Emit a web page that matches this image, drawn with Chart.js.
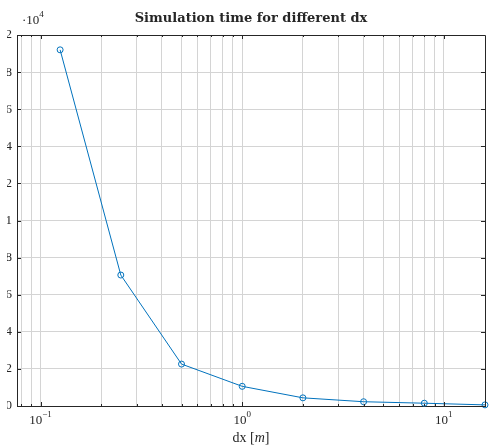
<!DOCTYPE html>
<html>
<head>
<meta charset="utf-8">
<script src="https://cdn.jsdelivr.net/npm/chart.js@4"></script>
<style>
  html, body { margin: 0; padding: 0; background: #fff; overflow: hidden; }
  #wrap { position: absolute; left: 7px; top: 0; width: 482px; height: 448px; }
</style>
</head>
<body>
<div id="wrap"><canvas id="chart"></canvas></div>
<script>
const dx = [0.125, 0.25, 0.5, 1, 2, 4, 8, 16];
const simTime = [19200, 7060, 2260, 1060, 440, 230, 150, 60];
const xGridTicks = [0.08, 0.09, 0.1, 0.2, 0.3, 0.4, 0.5, 0.6, 0.7, 0.8, 0.9,
                    1, 2, 3, 4, 5, 6, 7, 8, 9, 10];
const xMajor = [0.1, 1, 10];
const xMajorExp = ['\u22121', '0', '1'];

const AX = '#262626';
const SERIF = '"Liberation Serif", "DejaVu Serif", serif';
const TITLE_FONT = 'bold 13px "DejaVu Serif", serif';

const decor = {
    id: 'decor',
    afterDraw(chart) {
        const { ctx, chartArea: a, scales: { x, y } } = chart;
        ctx.save();
        // box top / right
        ctx.strokeStyle = AX;
        ctx.lineWidth = 1;
        ctx.beginPath();
        ctx.moveTo(a.left, a.top + 0.5);
        ctx.lineTo(a.right + 0.5, a.top + 0.5);
        ctx.lineTo(a.right + 0.5, a.bottom);
        ctx.stroke();

        // inward tick marks
        ctx.beginPath();
        xGridTicks.forEach(v => {
            const px = Math.round(x.getPixelForValue(v)) + 0.5;
            const len = xMajor.includes(v) ? 4 : 2;
            ctx.moveTo(px, a.bottom); ctx.lineTo(px, a.bottom - len);
            ctx.moveTo(px, a.top); ctx.lineTo(px, a.top + len);
        });
        y.ticks.forEach(t => {
            const py = Math.round(y.getPixelForValue(t.value)) + 0.5;
            ctx.moveTo(a.left, py); ctx.lineTo(a.left + 4, py);
            ctx.moveTo(a.right, py); ctx.lineTo(a.right - 4, py);
        });
        ctx.stroke();

        ctx.fillStyle = AX;
        // title
        ctx.font = TITLE_FONT;
        ctx.textAlign = 'center';
        ctx.textBaseline = 'alphabetic';
        ctx.fillText('Simulation time for different dx', (a.left + a.right) / 2, 22);

        // x tick labels 10^n
        xMajor.forEach((v, i) => {
            const px = x.getPixelForValue(v);
            ctx.font = '13px ' + SERIF;
            const w1 = ctx.measureText('10').width;
            ctx.font = '9px ' + SERIF;
            const w2 = ctx.measureText(xMajorExp[i]).width;
            const start = px - (w1 + w2) / 2;
            ctx.textAlign = 'left';
            ctx.font = '13px ' + SERIF;
            ctx.fillText('10', start, 424);
            ctx.font = '9px ' + SERIF;
            ctx.fillText(xMajorExp[i], start + w1, 417);
        });

        // x axis label: dx [m]
        ctx.font = '14px ' + SERIF;
        const p1 = 'dx [', p3 = ']';
        const w1 = ctx.measureText(p1).width;
        const w3 = ctx.measureText(p3).width;
        ctx.font = 'italic 14px ' + SERIF;
        const w2 = ctx.measureText('m').width;
        let sx = (a.left + a.right) / 2 - (w1 + w2 + w3) / 2;
        ctx.font = '14px ' + SERIF;
        ctx.fillText(p1, sx, 442);
        ctx.font = 'italic 14px ' + SERIF;
        ctx.fillText('m', sx + w1, 442);
        ctx.font = '14px ' + SERIF;
        ctx.fillText(p3, sx + w1 + w2, 442);

        // exponent multiplier
        ctx.font = '13px ' + SERIF;
        ctx.fillText('\u00b710', a.left + 5, 24);
        const wm = ctx.measureText('\u00b710').width;
        ctx.font = '9px ' + SERIF;
        ctx.fillText('4', a.left + 5 + wm, 17);
        ctx.restore();
    }
};

new Chart(document.getElementById('chart'), {
    type: 'line',
    data: {
        datasets: [{
            data: dx.map((v, i) => ({ x: v, y: simTime[i] })),
            borderColor: '#0072BD',
            borderWidth: 1,
            pointRadius: 3,
            pointHoverRadius: 3,
            pointBorderWidth: 1,
            pointBorderColor: '#0072BD',
            pointBackgroundColor: 'rgba(0,0,0,0)',
            tension: 0,
            clip: false
        }]
    },
    options: {
        responsive: true,
        maintainAspectRatio: false,
        animation: false,
        events: [],
        layout: { padding: { top: 35, right: 1, left: 0, bottom: 0 } },
        plugins: { legend: { display: false }, tooltip: { enabled: false }, title: { display: false } },
        scales: {
            x: {
                type: 'logarithmic',
                min: 0.0764,
                max: 16,
                afterBuildTicks: (scale) => {
                    scale.ticks = xGridTicks.map(v => ({ value: v }));
                },
                afterFit: (scale) => { scale.height = 42; },
                ticks: { display: false },
                grid: { color: '#d4d4d4', drawTicks: false, lineWidth: 1 },
                border: { display: true, color: AX, width: 1 }
            },
            y: {
                min: 0,
                max: 20000,
                afterFit: (scale) => { scale.width = 10; },
                ticks: {
                    stepSize: 2000,
                    padding: 5,
                    color: AX,
                    font: { family: SERIF, size: 13 },
                    callback: (v) => String(+(v / 10000).toFixed(1))
                },
                grid: { color: '#d4d4d4', drawTicks: false, lineWidth: 1 },
                border: { display: true, color: AX, width: 1 }
            }
        }
    },
    plugins: [decor]
});
</script>
</body>
</html>
